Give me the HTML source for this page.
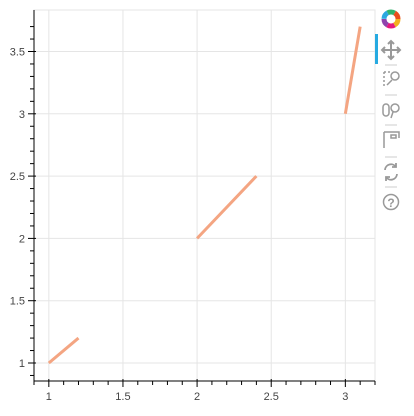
<!DOCTYPE html>
<html><head><style>
body{margin:0;background:#fff;width:414px;height:411px;overflow:hidden;font-family:"Liberation Sans",sans-serif}
svg text{font-family:"Liberation Sans",sans-serif;font-size:11px;fill:#444}
</style></head><body>
<svg id="chart" width="414" height="411">
<g id="grid"></g>
<g id="marks"></g>
<g id="axes"></g>
<g id="toolbar">
 <rect x="375" y="34" width="3" height="30" fill="#26aae1"/>
 <g fill="none" stroke-width="5">
  <circle cx="391" cy="19" r="7" stroke="#f2b01e" stroke-dasharray="7.3 36.7" stroke-dashoffset="0"/>
  <circle cx="391" cy="19" r="7" stroke="#e4197d" stroke-dasharray="7.3 36.7" stroke-dashoffset="-7.3"/>
  <circle cx="391" cy="19" r="7" stroke="#8e44ad" stroke-dasharray="7.3 36.7" stroke-dashoffset="-14.6"/>
  <circle cx="391" cy="19" r="7" stroke="#2aa8e0" stroke-dasharray="7.3 36.7" stroke-dashoffset="-22"/>
  <circle cx="391" cy="19" r="7" stroke="#2fb36c" stroke-dasharray="7.3 36.7" stroke-dashoffset="-29.3"/>
  <circle cx="391" cy="19" r="7" stroke="#e94e1b" stroke-dasharray="7.3 36.7" stroke-dashoffset="-36.6"/>
 </g>
 <g stroke="#999" stroke-width="2" fill="none">
  <path d="M391 41v18M382 50h18"/><path d="M388 44l3-3 3 3M388 56l3 3 3-3M385 47l-3 3 3 3M397 47l3 3-3 3"/>
 </g>
 <line x1="385" y1="65" x2="397" y2="65" stroke="#ccc"/>
 <g stroke="#999" stroke-width="1.5" fill="none">
  <path d="M384 72v14M384 72h6" stroke-dasharray="2 2"/><circle cx="395" cy="76" r="4"/><path d="M392 80l-5 5"/>
 </g>
 <line x1="385" y1="95" x2="397" y2="95" stroke="#ccc"/>
 <g stroke="#999" stroke-width="1.5" fill="none">
  <rect x="383" y="104" width="6" height="12" rx="3"/><circle cx="395" cy="108" r="4"/><path d="M393 112l-2 6"/>
 </g>
 <line x1="385" y1="125" x2="397" y2="125" stroke="#ccc"/>
 <g stroke="#999" stroke-width="1.5" fill="none">
  <path d="M384 132v16M384 132h15v6M391 135h5v3h-5z"/>
 </g>
 <line x1="385" y1="157" x2="397" y2="157" stroke="#ccc"/>
 <g stroke="#999" stroke-width="1.8" fill="none">
  <path d="M385 170a6 6 0 0 1 11-3M397 174a6 6 0 0 1-11 3"/><path d="M396 163v4h-4M386 181v-4h4"/>
 </g>
 <line x1="385" y1="187" x2="397" y2="187" stroke="#ccc"/>
 <g>
  <circle cx="391" cy="202" r="7.5" fill="none" stroke="#999" stroke-width="1.5"/>
  <text x="391" y="207" text-anchor="middle" style="font-size:12px;fill:#999;font-weight:bold">?</text>
 </g>
</g>
</svg>
<script>
const segX0=[1,2,3];
const segY0=[1,2,3];
const segX1=[1.2,2.4,3.1];
const segY1=[1.2,2.5,3.7];
const xTicks=[1,1.5,2,2.5,3];
const xTickLabels=["1","1.5","2","2.5","3"];
const yTicks=[1,1.5,2,2.5,3,3.5];
const yTickLabels=["1","1.5","2","2.5","3","3.5"];
const L=34,R=375,T=10,B=381;
const xMin=0.9,xMax=3.2,yMin=1-18/124.6,yMax=3.5+41.5/124.6;
const sx=v=>L+(v-xMin)/(xMax-xMin)*(R-L);
const sy=v=>B-(v-yMin)/(yMax-yMin)*(B-T);
const NS="http://www.w3.org/2000/svg";
function mk(p,t,a){const e=document.createElementNS(NS,t);for(const k in a)e.setAttribute(k,a[k]);p.appendChild(e);return e;}
const g=document.getElementById('grid'),m=document.getElementById('marks'),ax=document.getElementById('axes');
mk(g,'rect',{x:L,y:T,width:R-L,height:B-T,fill:'none',stroke:'#e5e5e5'});
xTicks.forEach(v=>{const l=mk(g,'line',{x1:sx(v),x2:sx(v),y1:T,y2:B,stroke:'#e5e5e5'});

});
yTicks.forEach(v=>{const l=mk(g,'line',{y1:sy(v),y2:sy(v),x1:L,x2:R,stroke:'#e5e5e5'});

});
segX0.forEach((x,i)=>{const l=mk(m,'line',{x1:sx(x),y1:sy(segY0[i]),x2:sx(segX1[i]),y2:sy(segY1[i]),stroke:'#f4a582','stroke-width':3});

});
mk(ax,'line',{x1:L,x2:R,y1:B,y2:B,stroke:'#000'});
mk(ax,'line',{x1:L,x2:L,y1:T,y2:B,stroke:'#000'});
for(let v=0.9;v<=3.2001;v+=0.1){const major=Math.abs(v*2-Math.round(v*2))<1e-6;mk(ax,'line',{x1:sx(v),x2:sx(v),y1:B-(major?2:0),y2:B+(major?6:4),stroke:'#000'});}
for(let v=0.9;v<=3.8;v+=0.1){if(sy(v)<T-1)continue;const major=Math.abs(v*2-Math.round(v*2))<1e-6;mk(ax,'line',{y1:sy(v),y2:sy(v),x1:L+(major?2:0),x2:L-(major?6:4),stroke:'#000'});}
xTicks.forEach((v,i)=>{const t=mk(ax,'text',{x:sx(v),y:B+19,'text-anchor':'middle'});t.textContent=xTickLabels[i];

});
yTicks.forEach((v,i)=>{const t=mk(ax,'text',{x:L-9,y:sy(v)+4,'text-anchor':'end'});t.textContent=yTickLabels[i];

});
</script>
</body></html>
